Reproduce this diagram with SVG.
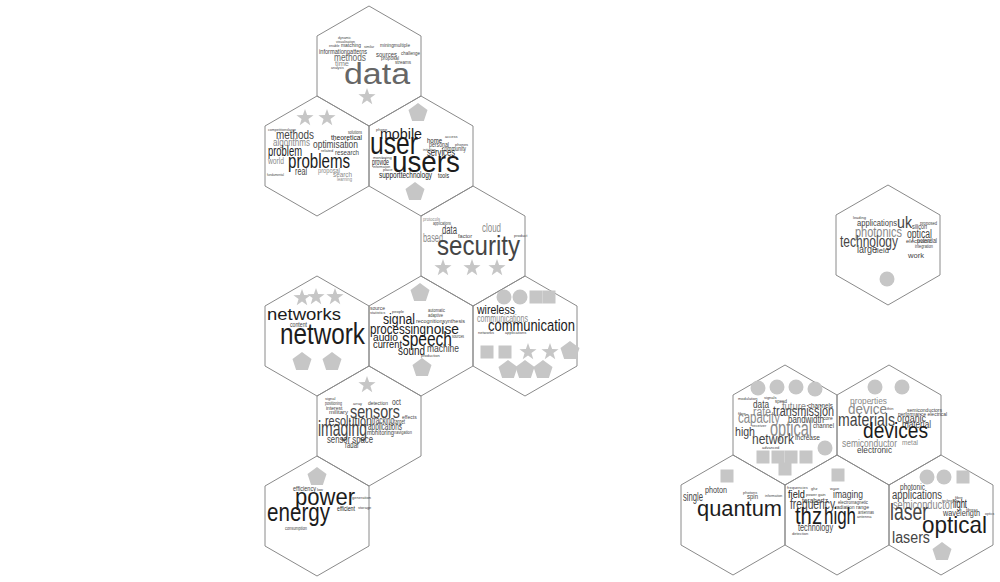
<svg xmlns="http://www.w3.org/2000/svg" xmlns:xlink="http://www.w3.org/1999/xlink" width="1000" height="582" viewBox="0 0 1000 582">
<defs>
<style>
text{font-family:"Liberation Sans",Arial,sans-serif}
.hex{fill:none;stroke:#8a8a8a;stroke-width:1}
.sh{fill:#c6c6c6}
.k{fill:#1c1c1c}.d{fill:#454545}.m{fill:#666}.l{fill:#8a8a8a}
</style>
<polygon id="hx" class="hex" points="0,-60 52,-30 52,30 0,60 -52,30 -52,-30"/>
<polygon id="st" class="sh" points="0,-9 2.12,-2.91 8.56,-2.78 3.42,1.11 5.29,7.28 0,3.6 -5.29,7.28 -3.42,1.11 -8.56,-2.78 -2.12,-2.91"/>
<polygon id="pe" class="sh" points="0,-10 9.51,-3.09 5.88,8.09 -5.88,8.09 -9.51,-3.09"/>
<circle id="ci" class="sh" r="7.5"/>
<rect id="sq" class="sh" x="-6.5" y="-6.5" width="13" height="13"/>
</defs>
<rect width="1000" height="582" fill="#fff"/>

<g id="hex-data">
<use xlink:href="#hx" x="369" y="66"/>
<use xlink:href="#st" x="367" y="97"/>
<text class="d" x="338" y="39" font-size="3.5">dynamic</text>
<text class="d" x="336" y="43" font-size="3.5">visualisation</text>
<text class="d" x="329" y="47" font-size="3.5">enable</text>
<text class="d" x="341" y="47" font-size="5.5" textLength="20" lengthAdjust="spacingAndGlyphs">matching</text>
<text class="d" x="364" y="48" font-size="3.5">similar</text>
<text class="d" x="380" y="47" font-size="5.5" textLength="30" lengthAdjust="spacingAndGlyphs">miningmultiple</text>
<text class="d" x="319" y="54" font-size="7.5" textLength="28" lengthAdjust="spacingAndGlyphs">information</text>
<text class="d" x="347" y="54" font-size="7.5" textLength="20" lengthAdjust="spacingAndGlyphs">patterns</text>
<text class="d" x="376" y="57" font-size="7" textLength="21" lengthAdjust="spacingAndGlyphs">sources</text>
<text class="d" x="401" y="55" font-size="5" textLength="19" lengthAdjust="spacingAndGlyphs">challenge</text>
<text class="d" x="381" y="60" font-size="6" textLength="18" lengthAdjust="spacingAndGlyphs">proposal</text>
<text class="d" x="395" y="64" font-size="5" textLength="16" lengthAdjust="spacingAndGlyphs">streams</text>
<text class="m" x="334" y="61" font-size="10" textLength="32" lengthAdjust="spacingAndGlyphs">methods</text>
<text class="l" x="335" y="66" font-size="8" textLength="14" lengthAdjust="spacingAndGlyphs">time</text>
<text class="d" x="331" y="69" font-size="3.5">analysis</text>
<text class="m" x="344" y="84" font-size="30" textLength="66" lengthAdjust="spacingAndGlyphs">data</text>
</g>

<g id="hex-problems">
<use xlink:href="#hx" x="317" y="156"/>
<use xlink:href="#st" x="305" y="118"/>
<use xlink:href="#st" x="327" y="118"/>
<text class="d" x="268" y="131" font-size="4" textLength="28" lengthAdjust="spacingAndGlyphs">competitionslarge</text>
<text class="d" x="348" y="134" font-size="5" textLength="14" lengthAdjust="spacingAndGlyphs">solutions</text>
<text class="d" x="276" y="139" font-size="12" textLength="38" lengthAdjust="spacingAndGlyphs">methods</text>
<text class="k" x="331" y="140" font-size="8" textLength="31" lengthAdjust="spacingAndGlyphs">theoretical</text>
<text class="l" x="273" y="146" font-size="10" textLength="37" lengthAdjust="spacingAndGlyphs">algorithms</text>
<text class="d" x="313" y="148" font-size="11" textLength="45" lengthAdjust="spacingAndGlyphs">optimisation</text>
<text class="d" x="321" y="152" font-size="4">related</text>
<text class="k" x="268" y="156" font-size="15" textLength="34" lengthAdjust="spacingAndGlyphs">problem</text>
<text class="d" x="335" y="155" font-size="8" textLength="24" lengthAdjust="spacingAndGlyphs">research</text>
<text class="l" x="268" y="164" font-size="9" textLength="16" lengthAdjust="spacingAndGlyphs">world</text>
<text class="k" x="288" y="168" font-size="20" textLength="62" lengthAdjust="spacingAndGlyphs">problems</text>
<text class="d" x="295" y="175" font-size="10" textLength="12" lengthAdjust="spacingAndGlyphs">real</text>
<text class="l" x="318" y="173" font-size="7" textLength="22" lengthAdjust="spacingAndGlyphs">proposal</text>
<text class="l" x="333" y="177" font-size="8" textLength="19" lengthAdjust="spacingAndGlyphs">search</text>
<text class="l" x="337" y="181" font-size="5" textLength="15" lengthAdjust="spacingAndGlyphs">learning</text>
<text class="d" x="267" y="176" font-size="4" textLength="17" lengthAdjust="spacingAndGlyphs">fundamental</text>
</g>

<g id="hex-users">
<use xlink:href="#hx" x="421" y="156"/>
<use xlink:href="#pe" x="418" y="113"/>
<use xlink:href="#pe" x="415" y="192"/>
<text class="d" x="376" y="131" font-size="4">phone</text>
<text class="k" x="380" y="139" font-size="14" textLength="42" lengthAdjust="spacingAndGlyphs">mobile</text>
<text class="d" x="445" y="138" font-size="4">access</text>
<text class="k" x="427" y="143" font-size="8" textLength="15" lengthAdjust="spacingAndGlyphs">home</text>
<text class="d" x="429" y="147" font-size="7" textLength="20" lengthAdjust="spacingAndGlyphs">personal</text>
<text class="d" x="455" y="146" font-size="4">phones</text>
<text class="k" x="370" y="154" font-size="32" textLength="48" lengthAdjust="spacingAndGlyphs">user</text>
<text class="d" x="442" y="151" font-size="7" textLength="24" lengthAdjust="spacingAndGlyphs">community</text>
<text class="d" x="423" y="151" font-size="3.5">initiative</text>
<text class="k" x="427" y="156" font-size="10" textLength="28" lengthAdjust="spacingAndGlyphs">services</text>
<text class="d" x="373" y="159" font-size="4">monitoring</text>
<text class="k" x="372" y="165" font-size="9" textLength="17" lengthAdjust="spacingAndGlyphs">provide</text>
<text class="d" x="373" y="168" font-size="3.5">information</text>
<text class="d" x="383" y="171" font-size="4">place</text>
<text class="k" x="392" y="172" font-size="30" textLength="68" lengthAdjust="spacingAndGlyphs">users</text>
<text class="k" x="379" y="178" font-size="9" textLength="53" lengthAdjust="spacingAndGlyphs">supporttechnology</text>
<text class="k" x="438" y="178" font-size="7" textLength="11" lengthAdjust="spacingAndGlyphs">tools</text>
</g>

<g id="hex-security">
<use xlink:href="#hx" x="473" y="246"/>
<text class="l" x="423" y="221" font-size="6" textLength="17" lengthAdjust="spacingAndGlyphs">protocols</text>
<text class="d" x="433" y="225" font-size="5" textLength="18" lengthAdjust="spacingAndGlyphs">applications</text>
<text class="d" x="442" y="234" font-size="12" textLength="15" lengthAdjust="spacingAndGlyphs">data</text>
<text class="d" x="458" y="238" font-size="6" textLength="14" lengthAdjust="spacingAndGlyphs">factor</text>
<text class="l" x="482" y="232" font-size="12" textLength="19" lengthAdjust="spacingAndGlyphs">cloud</text>
<text class="d" x="514" y="237" font-size="4">product</text>
<text class="l" x="423" y="242" font-size="12" textLength="20" lengthAdjust="spacingAndGlyphs">based</text>
<text class="d" x="437" y="255" font-size="28" textLength="83" lengthAdjust="spacingAndGlyphs">security</text>
<use xlink:href="#st" x="443" y="268"/>
<use xlink:href="#st" x="472" y="268"/>
<use xlink:href="#st" x="497" y="268"/>
</g>

<g id="hex-network">
<use xlink:href="#hx" x="317" y="336"/>
<use xlink:href="#st" x="302" y="298"/>
<use xlink:href="#st" x="316" y="297"/>
<use xlink:href="#st" x="335" y="297"/>
<text class="k" x="267" y="320" font-size="17" textLength="74" lengthAdjust="spacingAndGlyphs">networks</text>
<text class="d" x="290" y="327" font-size="7" textLength="17" lengthAdjust="spacingAndGlyphs">content</text>
<text class="k" x="280" y="344" font-size="30" textLength="85" lengthAdjust="spacingAndGlyphs">network</text>
<use xlink:href="#pe" x="302" y="362"/>
<use xlink:href="#pe" x="332" y="362"/>
</g>

<g id="hex-signal">
<use xlink:href="#hx" x="421" y="336"/>
<use xlink:href="#pe" x="420" y="293"/>
<text class="d" x="370" y="310" font-size="5">source</text>
<text class="d" x="370" y="314" font-size="4">statistics</text>
<text class="d" x="392" y="313" font-size="4">people</text>
<text class="d" x="428" y="312" font-size="5" textLength="17" lengthAdjust="spacingAndGlyphs">automatic</text>
<text class="d" x="428" y="317" font-size="6" textLength="15" lengthAdjust="spacingAndGlyphs">adaptive</text>
<text class="k" x="383" y="324" font-size="14" textLength="32" lengthAdjust="spacingAndGlyphs">signal</text>
<text class="d" x="416" y="323" font-size="6" textLength="49" lengthAdjust="spacingAndGlyphs">recognitionsynthesis</text>
<text class="k" x="370" y="334" font-size="14" textLength="56" lengthAdjust="spacingAndGlyphs">processing</text>
<text class="k" x="426" y="334" font-size="14" textLength="33" lengthAdjust="spacingAndGlyphs">noise</text>
<text class="d" x="452" y="338" font-size="5" textLength="12" lengthAdjust="spacingAndGlyphs">sources</text>
<text class="k" x="373" y="341" font-size="11" textLength="25" lengthAdjust="spacingAndGlyphs">audio</text>
<text class="k" x="402" y="346" font-size="20" textLength="50" lengthAdjust="spacingAndGlyphs">speech</text>
<text class="k" x="373" y="348" font-size="10" textLength="29" lengthAdjust="spacingAndGlyphs">current</text>
<text class="k" x="398" y="355" font-size="12" textLength="27" lengthAdjust="spacingAndGlyphs">sound</text>
<text class="d" x="427" y="352" font-size="10" textLength="32" lengthAdjust="spacingAndGlyphs">machine</text>
<text class="d" x="421" y="357" font-size="4">production</text>
<use xlink:href="#pe" x="422" y="368"/>
</g>

<g id="hex-communication">
<use xlink:href="#hx" x="525" y="336"/>
<use xlink:href="#ci" x="504" y="297"/>
<use xlink:href="#ci" x="520" y="297"/>
<use xlink:href="#sq" x="536" y="297"/>
<use xlink:href="#sq" x="549" y="297"/>
<text class="k" x="477" y="314" font-size="13" textLength="38" lengthAdjust="spacingAndGlyphs">wireless</text>
<text class="l" x="477" y="322" font-size="11" textLength="51" lengthAdjust="spacingAndGlyphs">communications</text>
<text class="k" x="488" y="331" font-size="17" textLength="87" lengthAdjust="spacingAndGlyphs">communication</text>
<text class="d" x="478" y="334" font-size="4">networks</text>
<text class="d" x="505" y="334" font-size="4">applications</text>
<use xlink:href="#sq" x="487" y="352"/>
<use xlink:href="#sq" x="505" y="352"/>
<use xlink:href="#st" x="528" y="352"/>
<use xlink:href="#st" x="550" y="352"/>
<use xlink:href="#pe" x="570" y="351"/>
<use xlink:href="#pe" x="508" y="370"/>
<use xlink:href="#pe" x="525" y="370"/>
<use xlink:href="#pe" x="543" y="370"/>
</g>

<g id="hex-sensors">
<use xlink:href="#hx" x="369" y="426"/>
<use xlink:href="#st" x="367" y="385"/>
<text class="d" x="325" y="400" font-size="4">signal</text>
<text class="d" x="325" y="405" font-size="5" textLength="17" lengthAdjust="spacingAndGlyphs">positioning</text>
<text class="d" x="353" y="405" font-size="4">array</text>
<text class="d" x="368" y="405" font-size="6" textLength="20" lengthAdjust="spacingAndGlyphs">detection</text>
<text class="d" x="392" y="405" font-size="9" textLength="9" lengthAdjust="spacingAndGlyphs">oct</text>
<text class="d" x="326" y="410" font-size="5">interest</text>
<text class="d" x="329" y="414" font-size="6">military</text>
<text class="d" x="350" y="418" font-size="19" textLength="50" lengthAdjust="spacingAndGlyphs">sensors</text>
<text class="d" x="402" y="419" font-size="5">effects</text>
<text class="d" x="325" y="426" font-size="15" textLength="47" lengthAdjust="spacingAndGlyphs">resolution</text>
<text class="d" x="372" y="424" font-size="10" textLength="22" lengthAdjust="spacingAndGlyphs">tracking</text>
<text class="d" x="394" y="424" font-size="8" textLength="11" lengthAdjust="spacingAndGlyphs">target</text>
<text class="d" x="318" y="436" font-size="22" textLength="49" lengthAdjust="spacingAndGlyphs">imaging</text>
<text class="d" x="368" y="430" font-size="11" textLength="34" lengthAdjust="spacingAndGlyphs">applications</text>
<text class="d" x="367" y="435" font-size="7" textLength="27" lengthAdjust="spacingAndGlyphs">monitoring</text>
<text class="d" x="394" y="434" font-size="6" textLength="18" lengthAdjust="spacingAndGlyphs">navigation</text>
<text class="d" x="327" y="443" font-size="11" textLength="46" lengthAdjust="spacingAndGlyphs">sensor space</text>
<text class="d" x="345" y="448" font-size="9" textLength="14" lengthAdjust="spacingAndGlyphs">radar</text>
</g>

<g id="hex-power">
<use xlink:href="#hx" x="317" y="516"/>
<use xlink:href="#pe" x="317" y="477"/>
<text class="d" x="293" y="491" font-size="7" textLength="23" lengthAdjust="spacingAndGlyphs">efficiency</text>
<text class="d" x="317" y="491" font-size="4">low</text>
<text class="d" x="352" y="499" font-size="4">generation</text>
<text class="k" x="295" y="505" font-size="24" textLength="60" lengthAdjust="spacingAndGlyphs">power</text>
<text class="k" x="337" y="511" font-size="8" textLength="18" lengthAdjust="spacingAndGlyphs">efficient</text>
<text class="d" x="358" y="509" font-size="4">storage</text>
<text class="k" x="267" y="521" font-size="26" textLength="63" lengthAdjust="spacingAndGlyphs">energy</text>
<text class="d" x="285" y="530" font-size="5" textLength="22" lengthAdjust="spacingAndGlyphs">consumption</text>
</g>

<g id="hex-photonics">
<use xlink:href="#hx" x="888" y="245"/>
<text class="d" x="853" y="219" font-size="4">leading</text>
<text class="d" x="857" y="226" font-size="9" textLength="40" lengthAdjust="spacingAndGlyphs">applications</text>
<text class="d" x="897" y="228" font-size="17" textLength="15" lengthAdjust="spacingAndGlyphs">uk</text>
<text class="d" x="912" y="229" font-size="8" textLength="15" lengthAdjust="spacingAndGlyphs">silicon</text>
<text class="d" x="920" y="225" font-size="5" textLength="17" lengthAdjust="spacingAndGlyphs">proposed</text>
<text class="l" x="855" y="237" font-size="14" textLength="47" lengthAdjust="spacingAndGlyphs">photonics</text>
<text class="d" x="907" y="238" font-size="12" textLength="25" lengthAdjust="spacingAndGlyphs">optical</text>
<text class="d" x="840" y="247" font-size="17" textLength="58" lengthAdjust="spacingAndGlyphs">technology</text>
<text class="d" x="906" y="243" font-size="6">electronic</text>
<text class="d" x="917" y="243" font-size="7" textLength="20" lengthAdjust="spacingAndGlyphs">potential</text>
<text class="d" x="915" y="248" font-size="5" textLength="18" lengthAdjust="spacingAndGlyphs">integration</text>
<text class="d" x="857" y="253" font-size="10" textLength="20" lengthAdjust="spacingAndGlyphs">large</text>
<text class="d" x="875" y="253" font-size="8" textLength="14" lengthAdjust="spacingAndGlyphs">field</text>
<text class="d" x="908" y="258" font-size="8" textLength="16" lengthAdjust="spacingAndGlyphs">work</text>
<use xlink:href="#ci" x="887" y="279"/>
</g>

<g id="hex-optical">
<use xlink:href="#hx" x="785" y="425"/>
<use xlink:href="#ci" x="758" y="388"/>
<use xlink:href="#ci" x="777" y="387"/>
<use xlink:href="#ci" x="796" y="387"/>
<use xlink:href="#ci" x="815" y="389"/>
<text class="d" x="738" y="400" font-size="4">modulation</text>
<text class="d" x="764" y="399" font-size="4">signals</text>
<text class="d" x="775" y="403" font-size="6" textLength="12" lengthAdjust="spacingAndGlyphs">speed</text>
<text class="d" x="753" y="408" font-size="11" textLength="16" lengthAdjust="spacingAndGlyphs">data</text>
<text class="l" x="782" y="410" font-size="11" textLength="24" lengthAdjust="spacingAndGlyphs">future</text>
<text class="d" x="808" y="408" font-size="8" textLength="25" lengthAdjust="spacingAndGlyphs">channels</text>
<text class="d" x="738" y="415" font-size="4">fibre</text>
<text class="l" x="753" y="416" font-size="12" textLength="18" lengthAdjust="spacingAndGlyphs">rate</text>
<text class="d" x="773" y="416" font-size="14" textLength="61" lengthAdjust="spacingAndGlyphs">transmission</text>
<text class="l" x="738" y="423" font-size="16" textLength="42" lengthAdjust="spacingAndGlyphs">capacity</text>
<text class="d" x="788" y="423" font-size="10" textLength="36" lengthAdjust="spacingAndGlyphs">bandwidth</text>
<text class="d" x="823" y="420" font-size="5">core</text>
<text class="d" x="752" y="427" font-size="4">receiver</text>
<text class="d" x="813" y="428" font-size="8" textLength="21" lengthAdjust="spacingAndGlyphs">channel</text>
<text class="d" x="735" y="436" font-size="12" textLength="20" lengthAdjust="spacingAndGlyphs">high</text>
<text class="l" x="770" y="436" font-size="22" textLength="42" lengthAdjust="spacingAndGlyphs">optical</text>
<text class="d" x="752" y="444" font-size="15" textLength="42" lengthAdjust="spacingAndGlyphs">network</text>
<text class="d" x="795" y="440" font-size="7" textLength="25" lengthAdjust="spacingAndGlyphs">increase</text>
<text class="d" x="762" y="449" font-size="4">advanced</text>
<use xlink:href="#ci" x="825" y="448"/>
<use xlink:href="#sq" x="763" y="457"/>
<use xlink:href="#sq" x="778" y="457"/>
<use xlink:href="#sq" x="791" y="457"/>
<use xlink:href="#sq" x="806" y="457"/>
<use xlink:href="#sq" x="785" y="469"/>
</g>

<g id="hex-devices">
<use xlink:href="#hx" x="889" y="425"/>
<use xlink:href="#ci" x="875" y="387"/>
<use xlink:href="#ci" x="902" y="387"/>
<text class="l" x="850" y="404" font-size="9" textLength="37" lengthAdjust="spacingAndGlyphs">properties</text>
<text class="l" x="848" y="414" font-size="14" textLength="39" lengthAdjust="spacingAndGlyphs">device</text>
<text class="d" x="887" y="410" font-size="4">thin</text>
<text class="d" x="907" y="412" font-size="5">semiconductors</text>
<text class="d" x="898" y="416" font-size="5">performance electrical</text>
<text class="d" x="838" y="426" font-size="18" textLength="57" lengthAdjust="spacingAndGlyphs">materials</text>
<text class="d" x="897" y="422" font-size="10" textLength="29" lengthAdjust="spacingAndGlyphs">organic</text>
<text class="d" x="902" y="428" font-size="10" textLength="29" lengthAdjust="spacingAndGlyphs">material</text>
<text class="k" x="863" y="438" font-size="22" textLength="65" lengthAdjust="spacingAndGlyphs">devices</text>
<text class="l" x="842" y="447" font-size="10" textLength="55" lengthAdjust="spacingAndGlyphs">semiconductor</text>
<text class="l" x="902" y="445" font-size="8" textLength="16" lengthAdjust="spacingAndGlyphs">metal</text>
<text class="d" x="857" y="453" font-size="9" textLength="35" lengthAdjust="spacingAndGlyphs">electronic</text>
</g>

<g id="hex-quantum">
<use xlink:href="#hx" x="733" y="515"/>
<use xlink:href="#sq" x="727" y="476"/>
<text class="d" x="705" y="493" font-size="9" textLength="22" lengthAdjust="spacingAndGlyphs">photon</text>
<text class="d" x="743" y="494" font-size="4">photons</text>
<text class="d" x="765" y="497" font-size="3.5">information</text>
<text class="d" x="683" y="501" font-size="12" textLength="20" lengthAdjust="spacingAndGlyphs">single</text>
<text class="d" x="747" y="499" font-size="8" textLength="11" lengthAdjust="spacingAndGlyphs">spin</text>
<text class="k" x="697" y="516" font-size="22" textLength="85" lengthAdjust="spacingAndGlyphs">quantum</text>
</g>

<g id="hex-thz">
<use xlink:href="#hx" x="837" y="515"/>
<use xlink:href="#sq" x="838" y="475"/>
<text class="d" x="787" y="489" font-size="4">frequencies</text>
<text class="d" x="811" y="490" font-size="4">ghz</text>
<text class="d" x="830" y="490" font-size="4">wave</text>
<text class="k" x="788" y="498" font-size="11" textLength="17" lengthAdjust="spacingAndGlyphs">field</text>
<text class="d" x="806" y="496" font-size="4">power gain</text>
<text class="d" x="833" y="498" font-size="11" textLength="30" lengthAdjust="spacingAndGlyphs">imaging</text>
<text class="d" x="802" y="503" font-size="7" textLength="26" lengthAdjust="spacingAndGlyphs">terahertz</text>
<text class="d" x="838" y="504" font-size="6" textLength="30" lengthAdjust="spacingAndGlyphs">electromagnetic</text>
<text class="d" x="790" y="509" font-size="14" textLength="45" lengthAdjust="spacingAndGlyphs">frequency</text>
<text class="d" x="835" y="509" font-size="6" textLength="34" lengthAdjust="spacingAndGlyphs">radiation range</text>
<text class="d" x="858" y="514" font-size="5" textLength="16" lengthAdjust="spacingAndGlyphs">antennas</text>
<text class="d" x="857" y="518" font-size="4">antenna</text>
<text class="k" x="795" y="524" font-size="24" textLength="27" lengthAdjust="spacingAndGlyphs">thz</text>
<text class="k" x="824" y="524" font-size="24" textLength="32" lengthAdjust="spacingAndGlyphs">high</text>
<text class="d" x="798" y="531" font-size="10" textLength="35" lengthAdjust="spacingAndGlyphs">technology</text>
<text class="d" x="792" y="535" font-size="4">detection</text>
</g>

<g id="hex-laser">
<use xlink:href="#hx" x="941" y="515"/>
<use xlink:href="#ci" x="927" y="477"/>
<use xlink:href="#ci" x="944" y="477"/>
<use xlink:href="#sq" x="963" y="477"/>
<text class="d" x="900" y="490" font-size="9" textLength="25" lengthAdjust="spacingAndGlyphs">photonic</text>
<text class="d" x="892" y="499" font-size="12" textLength="50" lengthAdjust="spacingAndGlyphs">applications</text>
<text class="d" x="955" y="499" font-size="4">fibre</text>
<text class="d" x="942" y="502" font-size="3.5">technology</text>
<text class="l" x="893" y="509" font-size="12" textLength="60" lengthAdjust="spacingAndGlyphs">semiconductor</text>
<text class="k" x="953" y="508" font-size="13" textLength="14" lengthAdjust="spacingAndGlyphs">light</text>
<text class="d" x="966" y="511" font-size="4">fibres</text>
<text class="d" x="985" y="515" font-size="3.5">optics</text>
<text class="d" x="943" y="516" font-size="9" textLength="37" lengthAdjust="spacingAndGlyphs">wavelength</text>
<text class="d" x="890" y="520" font-size="24" textLength="38" lengthAdjust="spacingAndGlyphs">laser</text>
<text class="k" x="922" y="533" font-size="24" textLength="65" lengthAdjust="spacingAndGlyphs">optical</text>
<text class="d" x="892" y="543" font-size="16" textLength="38" lengthAdjust="spacingAndGlyphs">lasers</text>
<use xlink:href="#pe" x="942" y="552"/>
</g>

<g id="connectors"></g>
</svg>
